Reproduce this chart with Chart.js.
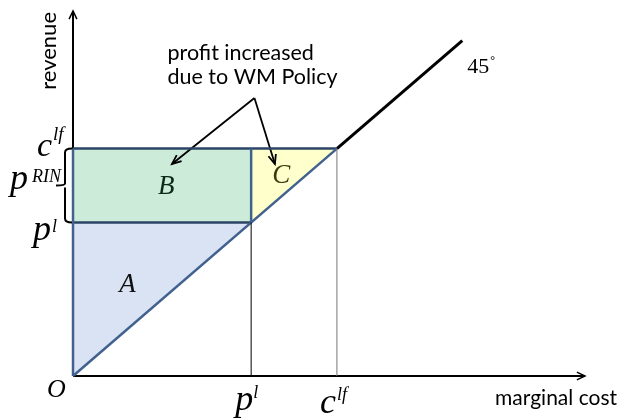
<!DOCTYPE html>
<html lang="en">
<head>
<meta charset="UTF-8">
<title>WM Policy profit</title>
<style>
  body { margin: 0; background: #fff; }
  .chartBox { width: 621px; height: 418px; }
</style>
</head>
<body>
<div class="chartBox"><canvas id="myChart" width="621" height="418"></canvas></div>
<script src="https://cdn.jsdelivr.net/npm/chart.js"></script>
<script>
// key values on the cost axis (the 45 degree line is revenue = cost)
const pL = 2.7;      // p^l
const cLf = 4;       // c^lf
const diagEnd = 5.9; // where the 45 degree line stops
const axisMaxX = 7.76;
const axisMaxY = 6.42;

// shaded regions and their labels
const regionNames = ['A', 'B', 'C'];
const regionX = [0.7, 1.29, 3.02];
const regionY = [1.47, 3.21, 3.39];
const regionColors = ['#dae3f3', '#ccebd9', '#ffffcc'];

// callout: two arrows out of one point
const calloutText = ['profit increased', 'due to WM Policy'];
const calloutFrom = [2.75, 4.89];
const calloutToX = [1.5, 3.06];
const calloutToY = [3.73, 3.73];

const blue = '#41618f';
const navy = '#2b4466';

const pts = (xs, ys) => xs.map((x, i) => ({ x: x, y: ys[i] }));
const seg = (xs, ys, color, width) => ({
  data: pts(xs, ys), borderColor: color, borderWidth: width, fill: false, clip: false
});

const data = {
  datasets: [
    // region A, B, C fills
    { data: pts([0, pL], [0, pL]), fill: { value: pL }, backgroundColor: regionColors[0], borderColor: 'transparent', clip: false },
    { data: pts([0, pL], [cLf, cLf]), fill: { value: pL }, backgroundColor: regionColors[1], borderColor: 'transparent', clip: false },
    { data: pts([pL, cLf], [pL, cLf]), fill: { value: cLf }, backgroundColor: regionColors[2], borderColor: 'transparent', clip: false },
    // thin guide lines down to the cost axis
    seg([pL, pL], [0, pL], '#000', 1),
    seg([cLf, cLf], [0, cLf], '#777', 1),
    // outlines
    seg([0, 0], [0, cLf], blue, 2.5),
    seg([pL, pL], [pL, cLf], blue, 2.5),
    seg([0, cLf], [0, cLf], blue, 2.5),
    seg([0, cLf], [cLf, cLf], navy, 2.5),
    seg([0, pL], [pL, pL], navy, 2.5),
    // 45 degree line beyond c^lf
    seg([cLf, diagEnd], [cLf, diagEnd], '#000', 3),
    // callout arrows
    seg([calloutFrom[0], calloutToX[0]], [calloutFrom[1], calloutToY[0]], '#000', 1.8),
    seg([calloutFrom[0], calloutToX[1]], [calloutFrom[1], calloutToY[1]], '#000', 1.8)
  ]
};

function arrowHead(ctx, x0, y0, x1, y1, len, spread) {
  const a = Math.atan2(y1 - y0, x1 - x0);
  ctx.beginPath();
  ctx.moveTo(x1 - len * Math.cos(a - spread), y1 - len * Math.sin(a - spread));
  ctx.lineTo(x1, y1);
  ctx.lineTo(x1 - len * Math.cos(a + spread), y1 - len * Math.sin(a + spread));
  ctx.stroke();
}

function mathLabel(ctx, base, sup, x, y, size, sx, sy, supSize) {
  ctx.font = 'italic ' + size + 'px "Liberation Serif"';
  ctx.fillText(base, x, y);
  ctx.font = 'italic ' + supSize + 'px "Liberation Serif"';
  ctx.fillText(sup, x + sx, y + sy);
}

const drawing = {
  id: 'drawing',
  beforeDatasetsDraw(chart) {
    const ctx = chart.ctx, a = chart.chartArea;
    const ox = chart.scales.x.getPixelForValue(0), oy = chart.scales.y.getPixelForValue(0);
    ctx.save();
    ctx.strokeStyle = '#000';
    ctx.lineWidth = 2;
    ctx.beginPath();
    ctx.moveTo(ox, oy); ctx.lineTo(a.right, oy);
    ctx.moveTo(ox, oy); ctx.lineTo(ox, a.top);
    ctx.stroke();
    ctx.lineWidth = 1.5;
    arrowHead(ctx, ox, oy, a.right, oy, 9, 0.45);
    arrowHead(ctx, ox, oy, ox, a.top, 9, 0.45);
    ctx.restore();
  },
  afterDatasetsDraw(chart) {
    const ctx = chart.ctx;
    const xs = chart.scales.x, ys = chart.scales.y;
    const ox = xs.getPixelForValue(0), oy = ys.getPixelForValue(0);
    ctx.save();
    ctx.fillStyle = '#000';
    ctx.strokeStyle = '#000';

    // callout arrowheads and text
    const fx = xs.getPixelForValue(calloutFrom[0]), fy = ys.getPixelForValue(calloutFrom[1]);
    ctx.lineWidth = 1.8;
    for (let i = 0; i < calloutToX.length; i++) {
      arrowHead(ctx, fx, fy, xs.getPixelForValue(calloutToX[i]), ys.getPixelForValue(calloutToY[i]), 10, 0.4);
    }
    ctx.font = '21.5px Lato';
    ctx.textBaseline = 'alphabetic';
    ctx.fillText(calloutText[0], fx - 87, fy - 38);
    ctx.fillText(calloutText[1], fx - 87, fy - 14);

    // region labels
    const labelColors = ['#111', '#0c2a18', '#3a3a10'];
    ctx.font = 'italic 27px "Liberation Serif"';
    for (let i = 0; i < regionNames.length; i++) {
      ctx.fillStyle = labelColors[i];
      ctx.fillText(regionNames[i], xs.getPixelForValue(regionX[i]), ys.getPixelForValue(regionY[i]));
    }
    ctx.fillStyle = '#000';

    // brace marking p^RIN between p^l and c^lf
    const yt = ys.getPixelForValue(cLf), yb = ys.getPixelForValue(pL), ym = (yt + yb) / 2;
    ctx.lineWidth = 2;
    ctx.beginPath();
    ctx.moveTo(ox - 1, yt);
    ctx.quadraticCurveTo(ox - 8, yt, ox - 8, yt + 4);
    ctx.lineTo(ox - 8, ym - 2);
    ctx.quadraticCurveTo(ox - 8, ym, ox - 17, ym);
    ctx.moveTo(ox - 8, ym + 2);
    ctx.lineTo(ox - 8, yb - 4);
    ctx.quadraticCurveTo(ox - 8, yb, ox - 1, yb);
    ctx.stroke();

    // revenue axis labels
    mathLabel(ctx, 'c', 'lf', ox - 36, yt + 7, 34, 16, -16, 19);
    mathLabel(ctx, 'p', 'RIN', ox - 63, ym + 3, 36, 22, -7, 18);
    mathLabel(ctx, 'p', 'l', ox - 40, yb + 18, 36, 19, -8, 18);
    ctx.font = 'italic 26px "Liberation Serif"';
    ctx.fillText('O', ox - 26, oy + 21);

    // cost axis labels
    const px = xs.getPixelForValue(pL), cx = xs.getPixelForValue(cLf);
    mathLabel(ctx, 'p', 'l', px - 16, oy + 34, 36, 18, -12, 18);
    mathLabel(ctx, 'c', 'lf', cx - 17, oy + 37, 36, 17, -13, 18);

    // 45 degree mark
    const dx = xs.getPixelForValue(diagEnd), dy = ys.getPixelForValue(diagEnd);
    ctx.font = '22px "Liberation Serif"';
    ctx.fillText('45', dx + 5, dy + 32);
    ctx.font = '12px "Liberation Serif"';
    ctx.fillText('\u00b0', dx + 28, dy + 23);

    // axis titles
    ctx.font = '21px Lato';
    ctx.textAlign = 'right';
    ctx.fillText('marginal cost', 617, oy + 29);
    ctx.font = '22px Lato';
    ctx.save();
    ctx.translate(ox - 17, 12);
    ctx.rotate(-Math.PI / 2);
    ctx.fillText('revenue', 0, 0);
    ctx.restore();
    ctx.restore();
  }
};

const config = {
  type: 'line',
  data,
  options: {
    responsive: false,
    animation: false,
    events: [],
    layout: { padding: { left: 73, right: 36, top: 11, bottom: 42 } },
    elements: { point: { radius: 0 }, line: { tension: 0, borderCapStyle: 'butt' } },
    scales: {
      x: { type: 'linear', min: 0, max: axisMaxX, display: false },
      y: { type: 'linear', min: 0, max: axisMaxY, display: false }
    },
    plugins: {
      legend: { display: false },
      tooltip: { enabled: false },
      filler: { drawTime: 'beforeDatasetsDraw' }
    }
  },
  plugins: [drawing]
};

const myChart = new Chart(document.getElementById('myChart'), config);
</script>
</body>
</html>
